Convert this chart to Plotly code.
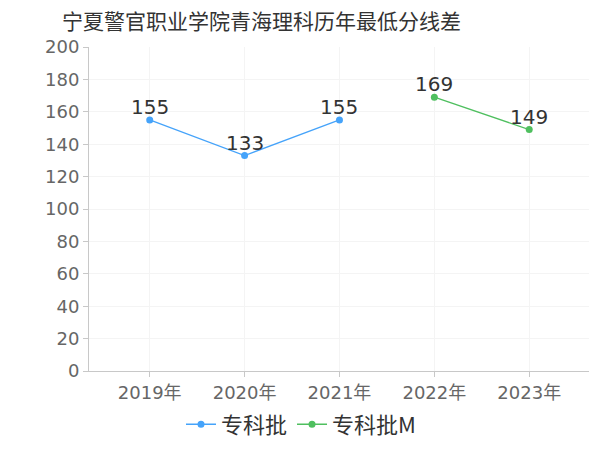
import plotly.graph_objects as go

years = ["2019年", "2020年", "2021年", "2022年", "2023年"]
series1_name = "专科批"
series1 = [155, 133, 155, None, None]
series2_name = "专科批M"
series2 = [None, None, None, 169, 149]
title = "宁夏警官职业学院青海理科历年最低分线差"
y_ticks = [0, 20, 40, 60, 80, 100, 120, 140, 160, 180, 200]

FONT = "Noto Sans CJK SC, Noto Sans, sans-serif"
NUMFONT = "DejaVu Sans, Noto Sans CJK SC, sans-serif"

fig = go.Figure()
for name, vals, color in [(series1_name, series1, "#45a3fa"), (series2_name, series2, "#4fbf5f")]:
    fig.add_trace(go.Scatter(
        x=years, y=vals, name=name, mode="lines+markers",
        line=dict(color=color, width=1.3), marker=dict(size=7, color=color),
        connectgaps=False,
    ))
    for x, v in zip(years, vals):
        if v is not None:
            fig.add_annotation(x=x, y=v, text=str(v), showarrow=False, yshift=13,
                               font=dict(size=20, color="#333333", family=NUMFONT))

fig.update_layout(
    width=600, height=450,
    margin=dict(l=81, r=19, t=39, b=85),
    paper_bgcolor="white", plot_bgcolor="white",
    font=dict(family=FONT, color="#666666"),
    title=dict(text=title, x=0.09, xanchor="left", y=0.97, yanchor="middle",
               font=dict(size=21, color="#333333", family=FONT)),
    showlegend=True,
    legend=dict(orientation="h", x=0.424, xanchor="center",
                y=-0.165, yanchor="middle",
                font=dict(size=22, color="#333333", family=FONT),
                itemwidth=30, tracegroupgap=0),
    xaxis=dict(
        type="category", range=[-0.64, 4.63],
        showline=True, linecolor="#c8c8c8", linewidth=1,
        ticks="outside", ticklen=5, tickcolor="#c8c8c8",
        showgrid=True, gridcolor="#f4f4f4",
        tickfont=dict(size=18, color="#666666", family=NUMFONT),
        fixedrange=True,
    ),
    yaxis=dict(
        range=[0, 200], tickvals=y_ticks,
        showline=True, linecolor="#c8c8c8", linewidth=1,
        ticks="outside", ticklen=5, tickcolor="#c8c8c8",
        showgrid=True, gridcolor="#f4f4f4", zeroline=False,
        tickfont=dict(size=18, color="#666666", family=NUMFONT),
    ),
)

fig.write_html("out.html")
